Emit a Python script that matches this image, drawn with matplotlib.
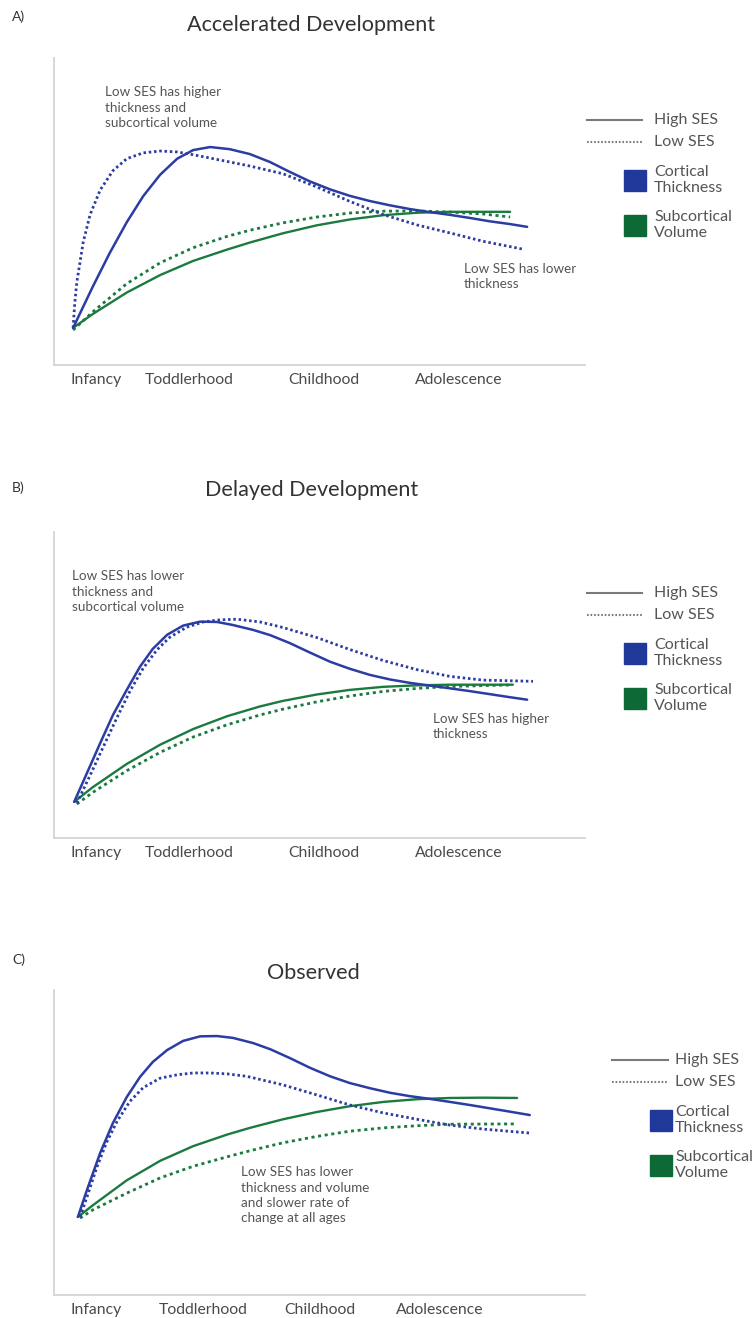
import matplotlib.pyplot as plt
from matplotlib.lines import Line2D
from matplotlib.patches import Rectangle

W, H = 752, 1318
DPI = 100

BLUE = '#2b3ca3'
GREEN = '#1b7a3f'
SQ_BLUE = '#1f389a'
SQ_GREEN = '#0d6a36'
GREY = '#555555'

plt.rcParams['font.family'] = ['Lato', 'DejaVu Sans']

STAGES = ['Infancy', 'Toddlerhood', 'Childhood', 'Adolescence']

# ---- panel A : accelerated development ----
a_hi_ct_x = [3.6, 7.3, 10.5, 13.7, 16.8, 20.0, 23.2, 26.2, 29.4, 33.1, 36.9, 40.7, 44.4,
             48.2, 52.0, 55.7, 59.5, 63.3, 67.0, 70.8, 74.6, 78.3, 82.1, 85.9, 89.1]
a_hi_ct_y = [12.1, 25.5, 36.5, 46.5, 55.0, 62.0, 67.2, 70.0, 71.0, 70.3, 68.7, 66.1, 62.9,
             59.8, 57.2, 55.1, 53.4, 52.0, 50.8, 49.8, 48.9, 47.9, 46.8, 45.9, 45.0]
a_lo_ct_x = [3.6, 3.9, 4.3, 5.5, 6.8, 8.7, 11.1, 13.7, 16.8, 20.0, 23.2, 26.2, 32.6, 36.9,
             43.1, 49.5, 55.7, 62.0, 68.4, 74.6, 80.8, 88.1]
a_lo_ct_y = [12.1, 20.0, 27.0, 40.0, 49.0, 57.0, 63.3, 67.2, 69.1, 69.7, 69.4, 68.5, 66.3, 64.8,
             62.3, 58.0, 53.3, 49.0, 45.6, 43.0, 40.3, 37.8]
a_hi_sv_x = [3.6, 7.3, 13.7, 20.0, 26.2, 32.6, 36.9, 43.1, 49.5, 55.7, 62.0, 68.4, 74.6, 85.9]
a_hi_sv_y = [12.1, 16.6, 23.6, 29.3, 33.9, 37.6, 39.9, 42.9, 45.5, 47.4, 48.8, 49.6, 49.9, 49.9]
a_lo_sv_x = [3.6, 7.3, 13.7, 20.0, 26.2, 32.6, 36.9, 43.1, 49.5, 55.7, 62.0, 68.4, 74.6, 80.8, 85.9]
a_lo_sv_y = [11.4, 17.3, 26.5, 33.3, 38.2, 41.9, 43.9, 46.3, 48.2, 49.5, 50.1, 50.2, 49.8, 49.2, 48.2]

# ---- panel B : delayed development ----
b_hi_ct_x = [3.8, 6.2, 8.7, 11.1, 13.7, 16.2, 18.6, 21.3, 24.3, 27.5, 30.7, 33.7, 37.5, 40.7,
             44.4, 48.2, 52.0, 55.7, 59.5, 63.3, 67.0, 70.8, 74.6, 78.3, 82.1, 85.9, 89.1]
b_hi_ct_y = [11.8, 21.2, 31.0, 40.2, 48.4, 56.0, 61.8, 66.4, 69.4, 70.7, 70.6, 69.6, 68.0, 66.3,
             63.7, 60.6, 57.6, 55.3, 53.3, 51.8, 50.7, 49.8, 48.9, 48.0, 47.0, 46.0, 45.2]
b_lo_ct_x = [4.3, 6.8, 9.2, 11.9, 14.3, 16.8, 19.4, 21.8, 25.0, 28.1, 31.3, 34.5, 38.8,
             43.1, 49.5, 55.7, 62.0, 68.4, 74.6, 80.8, 90.2]
b_lo_ct_y = [11.4, 20.5, 29.5, 39.5, 48.0, 55.5, 61.5, 65.6, 68.9, 70.6, 71.3, 71.5, 70.6,
             68.8, 65.5, 61.6, 58.0, 55.0, 52.8, 51.6, 51.2]
b_hi_sv_x = [3.8, 7.3, 13.7, 20.0, 26.2, 32.6, 38.8, 43.1, 49.5, 55.7, 62.0, 68.4, 74.6, 86.4]
b_hi_sv_y = [11.8, 16.6, 24.2, 30.5, 35.6, 39.8, 43.0, 44.8, 46.9, 48.4, 49.4, 49.9, 50.1, 50.1]
b_lo_sv_x = [4.3, 7.3, 13.7, 20.0, 26.2, 32.6, 38.8, 43.1, 49.5, 55.7, 62.0, 68.4, 74.6, 80.8, 85.9]
b_lo_sv_y = [11.1, 14.9, 22.0, 28.0, 33.0, 37.0, 40.2, 42.1, 44.5, 46.4, 47.9, 48.9, 49.5, 49.8, 50.0]

# ---- panel C : observed ----
c_hi_ct_x = [4.5, 6.2, 8.7, 11.1, 13.7, 16.2, 18.6, 21.3, 24.3, 27.5, 30.7, 33.7, 37.5, 40.7,
             44.4, 48.2, 52.0, 55.7, 59.5, 63.3, 67.0, 70.8, 74.6, 78.3, 82.1, 85.9, 89.6]
c_hi_ct_y = [25.6, 34.4, 46.6, 56.4, 64.9, 71.5, 76.4, 80.3, 83.3, 84.8, 84.9, 84.3, 82.6, 80.6,
             77.7, 74.5, 71.7, 69.5, 67.8, 66.3, 65.2, 64.3, 63.3, 62.3, 61.2, 60.1, 59.0]
c_lo_ct_x = [4.9, 6.2, 8.1, 9.9, 11.9, 14.3, 16.8, 20.0, 23.2, 26.2, 29.4, 32.6, 36.3,
             43.1, 49.5, 55.7, 62.0, 68.4, 74.6, 80.8, 89.6]
c_lo_ct_y = [25.6, 32.1, 42.0, 50.0, 57.0, 63.5, 68.0, 71.1, 72.2, 72.8, 72.8, 72.5, 71.7,
             68.9, 65.6, 62.3, 59.7, 57.6, 55.7, 54.4, 53.1]
c_hi_sv_x = [4.5, 7.3, 13.7, 20.0, 26.2, 32.6, 36.9, 43.1, 49.5, 55.7, 62.0, 68.4, 74.6, 80.8, 87.2]
c_hi_sv_y = [25.6, 29.4, 37.6, 44.0, 48.8, 52.6, 54.8, 57.6, 60.0, 61.9, 63.3, 64.2, 64.6, 64.7, 64.6]
c_lo_sv_x = [4.9, 7.3, 13.7, 20.0, 26.2, 32.6, 36.9, 43.1, 49.5, 55.7, 62.0, 68.4, 74.6, 87.2]
c_lo_sv_y = [25.2, 27.9, 33.4, 38.4, 42.2, 45.3, 47.3, 49.9, 52.0, 53.7, 54.8, 55.5, 56.0, 56.1]

# stage label positions on the age axis
ab_stage_pos = [7.9, 25.4, 50.8, 76.3]
c_stage_pos = [7.9, 28.1, 50.1, 72.7]


def fx(x):
    return x / W


def fy(y):
    return 1 - y / H


def draw_panel(fig, top, bottom, curves, stage_pos):
    ax = fig.add_axes([fx(54), fy(bottom), fx(585) - fx(54), fy(top) - fy(bottom)])
    hi_ct, lo_ct, hi_sv, lo_sv = curves
    ax.plot(*hi_sv, color=GREEN, lw=1.7, solid_capstyle='round', solid_joinstyle='round')
    ax.plot(*lo_sv, color=GREEN, lw=2.0, linestyle=(0, (1.1, 1.3)))
    ax.plot(*hi_ct, color=BLUE, lw=1.8, solid_capstyle='round', solid_joinstyle='round')
    ax.plot(*lo_ct, color=BLUE, lw=2.0, linestyle=(0, (0.9, 1.0)))
    ax.set_xlim(0, 100)
    ax.set_ylim(0, 100)
    for s in ['top', 'right']:
        ax.spines[s].set_visible(False)
    for s in ['left', 'bottom']:
        ax.spines[s].set_color('#d4d4d4')
        ax.spines[s].set_linewidth(1.3)
    ax.set_yticks([])
    ax.set_xticks(stage_pos, STAGES)
    ax.tick_params(axis='x', length=0, pad=6, labelsize=11.3, labelcolor='#4a4a4a')
    return ax


def draw_legend(fig, line_x0, line_x1, y_hi, text_x):
    fig.add_artist(Line2D([fx(line_x0), fx(line_x1)], [fy(y_hi), fy(y_hi)],
                          color='#7a7a7a', lw=1.5, transform=fig.transFigure))
    fig.add_artist(Line2D([fx(line_x0), fx(line_x1)], [fy(y_hi + 22), fy(y_hi + 22)],
                          color='#7a7a7a', lw=1.5, linestyle=(0, (0.8, 0.9)),
                          transform=fig.transFigure))
    fig.text(fx(text_x), fy(y_hi), 'High SES', fontsize=11.5, color=GREY, va='center')
    fig.text(fx(text_x), fy(y_hi + 22), 'Low SES', fontsize=11.5, color=GREY, va='center')
    sq_x = line_x1 - 18
    for i, (col, lab) in enumerate([(SQ_BLUE, 'Cortical\nThickness'),
                                    (SQ_GREEN, 'Subcortical\nVolume')]):
        top = y_hi + 50 + 45 * i
        fig.add_artist(Rectangle((fx(sq_x), fy(top + 21)), fx(22), 21 / H,
                                 color=col, transform=fig.transFigure))
        fig.text(fx(text_x), fy(top + 10), lab, fontsize=11.5, color=GREY,
                 va='center', linespacing=1.2)


fig = plt.figure(figsize=(W / DPI, H / DPI), dpi=DPI)

# panel A
draw_panel(fig, 58, 365,
           [(a_hi_ct_x, a_hi_ct_y), (a_lo_ct_x, a_lo_ct_y),
            (a_hi_sv_x, a_hi_sv_y), (a_lo_sv_x, a_lo_sv_y)], ab_stage_pos)
fig.text(fx(12), fy(17), 'A)', fontsize=10, color='#333333', va='center')
fig.text(fx(311), fy(25), 'Accelerated Development', fontsize=15.6, color='#333333',
         ha='center', va='center')
fig.text(fx(105), fy(86), 'Low SES has higher\nthickness and\nsubcortical volume',
         fontsize=9.7, color=GREY, va='top', linespacing=1.35)
fig.text(fx(464), fy(263), 'Low SES has lower\nthickness',
         fontsize=9.7, color=GREY, va='top', linespacing=1.35)
draw_legend(fig, 587, 642, 120, 654)

# panel B
draw_panel(fig, 532, 838,
           [(b_hi_ct_x, b_hi_ct_y), (b_lo_ct_x, b_lo_ct_y),
            (b_hi_sv_x, b_hi_sv_y), (b_lo_sv_x, b_lo_sv_y)], ab_stage_pos)
fig.text(fx(12), fy(488), 'B)', fontsize=10, color='#333333', va='center')
fig.text(fx(312), fy(490), 'Delayed Development', fontsize=15.6, color='#333333',
         ha='center', va='center')
fig.text(fx(72), fy(570), 'Low SES has lower\nthickness and\nsubcortical volume',
         fontsize=9.7, color=GREY, va='top', linespacing=1.35)
fig.text(fx(433), fy(713), 'Low SES has higher\nthickness',
         fontsize=9.7, color=GREY, va='top', linespacing=1.35)
draw_legend(fig, 587, 642, 593, 654)

# panel C
draw_panel(fig, 990, 1295,
           [(c_hi_ct_x, c_hi_ct_y), (c_lo_ct_x, c_lo_ct_y),
            (c_hi_sv_x, c_hi_sv_y), (c_lo_sv_x, c_lo_sv_y)], c_stage_pos)
fig.text(fx(12), fy(960), 'C)', fontsize=10, color='#333333', va='center')
fig.text(fx(313), fy(973), 'Observed', fontsize=15.6, color='#333333',
         ha='center', va='center')
fig.text(fx(241), fy(1166),
         'Low SES has lower\nthickness and volume\nand slower rate of\nchange at all ages',
         fontsize=9.7, color=GREY, va='top', linespacing=1.35)
draw_legend(fig, 612, 668, 1060, 675)

fig.savefig('out.png', dpi=DPI)
plt.close('all')
